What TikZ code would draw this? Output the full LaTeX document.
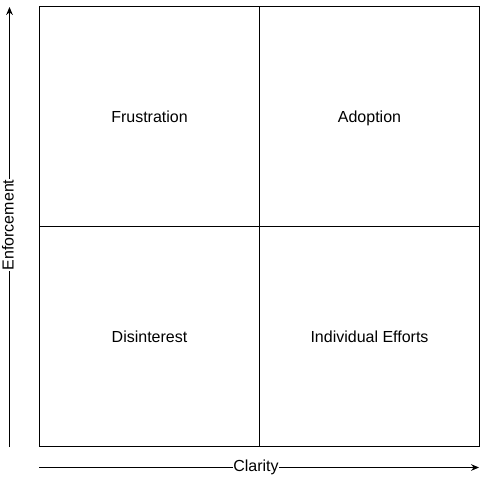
\documentclass[tikz,border=0pt]{standalone}
\usepackage{fontspec}
\setmainfont{Liberation Sans}
\usetikzlibrary{arrows.meta}
\begin{document}
\begin{tikzpicture}[x=0.75pt,y=-0.75pt,
  quad/.style={draw=black,line width=0.75pt,minimum width=165pt,minimum height=165pt,inner sep=0pt,text height=8.6pt,text depth=0pt,font=\fontsize{12pt}{14pt}\selectfont},
  axis/.style={draw=black,line width=0.75pt,-{Stealth[length=6pt,width=5pt,inset=2pt]}},
  axlabel/.style={fill=white,inner sep=0.5pt,text height=8.6pt,text depth=2.5pt,font=\fontsize{12pt}{14pt}\selectfont}]
\useasboundingbox (0,0) rectangle (488,478);
\node[quad] (fr) at (149.5,116.5) {Frustration};
\node[quad] (ad) at (369.5,116.5) {Adoption};
\node[quad] (di) at (149.5,336.5) {Disinterest};
\node[quad] (ie) at (369.5,336.5) {Individual Efforts};
\coordinate (ys) at (9.5,447);
\coordinate (ye) at (9.5,7);
\coordinate (xs) at (39,467.5);
\coordinate (xe) at (479,467.5);
\draw[axis] (ys) -- (ye);
\draw[axis] (xs) -- (xe);
\node[axlabel,rotate=90] (yl) at (9.5,225) {Enforcement};
\node[axlabel] (xl) at (256,467.5) {Clarity};
\end{tikzpicture}
\end{document}
